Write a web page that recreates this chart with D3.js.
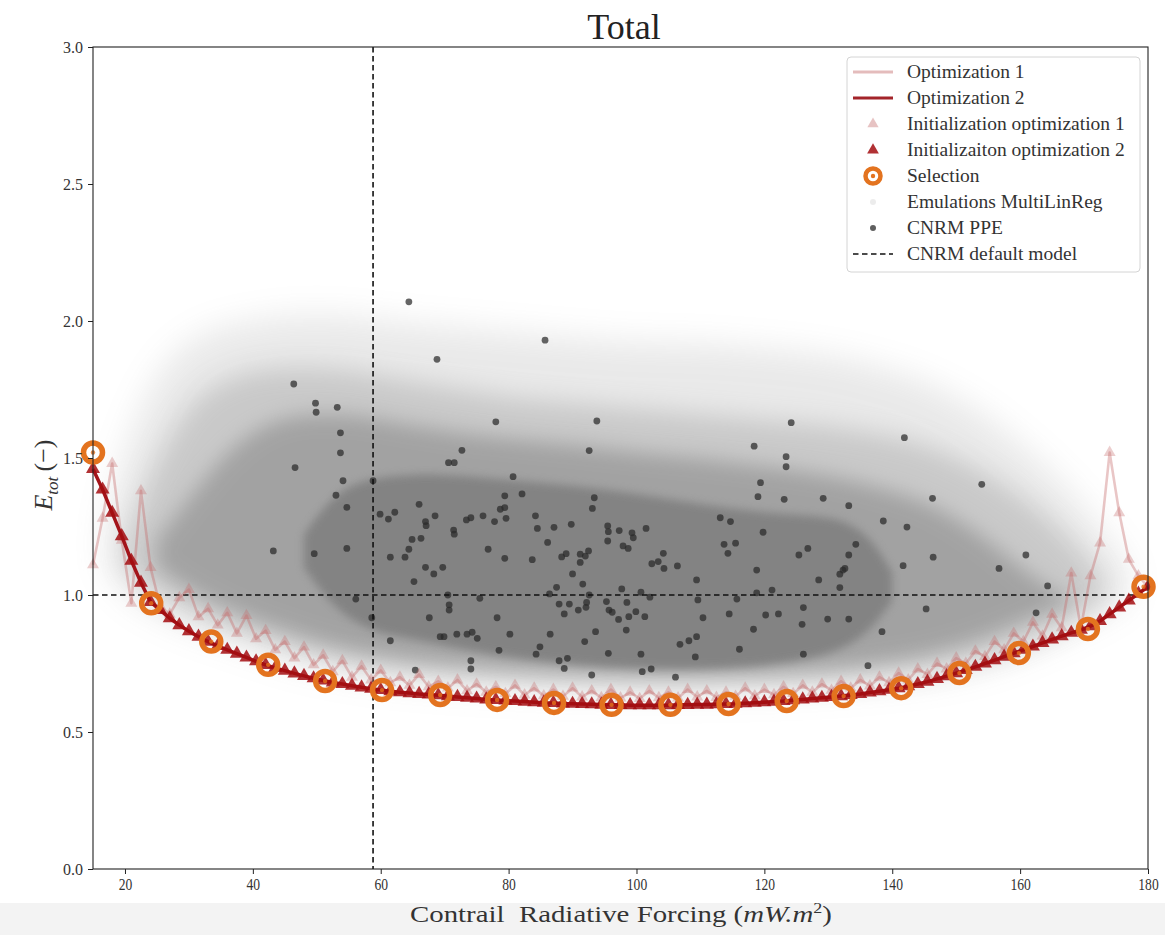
<!DOCTYPE html>
<html><head><meta charset="utf-8">
<script src="https://cdn.jsdelivr.net/npm/d3@7"></script>
<style>body{margin:0;background:#fff;} svg{display:block;}</style>
</head><body>
<svg id="chart" width="1165" height="935"></svg>
<script>
// ---------------- DATA ----------------
const xTicks = [20, 40, 60, 80, 100, 120, 140, 160, 180];
const yTicks = [0.0, 0.5, 1.0, 1.5, 2.0, 2.5, 3.0];
const defaultModelX = 58.8;
const defaultModelY = 1.0;

const optX = [15,16.5,18,19.5,21,22.5,24,25.5,27,28.5,30,31.5,33,34.5,36,37.5,39,40.5,42,43.5,45,46.5,48,49.5,51,52.5,54,55.5,57,58.5,60,61.5,63,64.5,66,67.5,69,70.5,72,73.5,75,76.5,78,79.5,81,82.5,84,85.5,87,88.5,90,91.5,93,94.5,96,97.5,99,100.5,102,103.5,105,106.5,108,109.5,111,112.5,114,115.5,117,118.5,120,121.5,123,124.5,126,127.5,129,130.5,132,133.5,135,136.5,138,139.5,141,142.5,144,145.5,147,148.5,150,151.5,153,154.5,156,157.5,159,160.5,162,163.5,165,166.5,168,169.5,171,172.5,174,175.5,177,178.5,180];
const opt1Y = [1.11,1.28,1.48,1.20,0.97,1.38,1.10,0.96,0.93,0.99,1.02,0.92,0.95,0.89,0.935,0.86,0.925,0.84,0.87,0.80,0.83,0.77,0.81,0.745,0.78,0.72,0.76,0.70,0.74,0.69,0.725,0.68,0.70,0.67,0.71,0.665,0.685,0.66,0.69,0.65,0.675,0.645,0.665,0.64,0.67,0.635,0.66,0.632,0.655,0.63,0.66,0.628,0.65,0.625,0.655,0.624,0.645,0.622,0.65,0.625,0.645,0.624,0.655,0.628,0.65,0.626,0.645,0.63,0.66,0.632,0.655,0.636,0.665,0.64,0.67,0.645,0.675,0.652,0.685,0.66,0.69,0.668,0.70,0.68,0.715,0.69,0.73,0.71,0.75,0.73,0.77,0.75,0.795,0.775,0.83,0.80,0.86,0.83,0.90,0.85,0.93,0.88,1.08,0.88,1.07,1.19,1.52,1.30,1.13,1.07,1.03];
const opt2Y = [1.46,1.385,1.30,1.215,1.125,1.045,0.975,0.945,0.915,0.89,0.868,0.848,0.83,0.814,0.80,0.786,0.772,0.758,0.745,0.734,0.724,0.714,0.705,0.696,0.688,0.681,0.675,0.669,0.663,0.658,0.653,0.649,0.645,0.642,0.639,0.637,0.634,0.631,0.628,0.625,0.622,0.619,0.617,0.615,0.613,0.611,0.609,0.607,0.606,0.604,0.603,0.602,0.601,0.600,0.599,0.599,0.598,0.598,0.598,0.598,0.598,0.599,0.599,0.600,0.600,0.601,0.602,0.603,0.605,0.607,0.609,0.611,0.613,0.616,0.619,0.622,0.625,0.628,0.631,0.635,0.639,0.644,0.649,0.654,0.660,0.667,0.675,0.684,0.694,0.704,0.715,0.726,0.738,0.750,0.762,0.775,0.788,0.800,0.812,0.825,0.838,0.850,0.862,0.873,0.886,0.905,0.930,0.955,0.980,1.005,1.030];

const selX = [15,24.1,33.5,42.4,51.3,60.2,69.3,78.2,87.1,96.1,105.3,114.4,123.5,132.4,141.4,150.5,159.8,170.6,179.3];
const selY = [1.52,0.97,0.83,0.745,0.686,0.653,0.635,0.617,0.606,0.599,0.599,0.602,0.613,0.631,0.66,0.715,0.788,0.876,1.03];

const ppeX = [64.4,85.7,68.8,46.4,49.8,49.9,53.2,53.7,53.7,46.6,54.1,58.8,53.0,78.0,93.8,72.7,70.6,71.5,92.6,80.7,79.4,82.1,93.4,124.2,141.9,118.4,123.4,123.4,119.4,119.0,123.1,129.2,146.3,154.0,54.7,43.2,49.6,54.7,56.1,58.6,59.9,61.2,62.2,66.0,68.5,67.0,67.1,64.9,66.3,61.5,63.8,64.4,67.0,68.3,69.7,65.2,71.4,71.5,73.4,74.1,76.0,77.8,78.7,79.4,79.6,76.8,79.4,70.5,70.7,70.7,67.6,75.5,61.5,69.3,69.9,71.9,73.5,74.3,75.1,78.2,80.2,78.5,74.1,74.1,65.4,84.2,84.5,87.1,89.8,86.1,83.7,88.3,89.0,91.2,92.0,92.5,91.2,90.0,91.6,95.5,95.6,95.5,97.3,97.9,98.7,93.1,87.5,86.4,87.9,89.5,88.7,90.9,92.1,92.2,92.6,95.3,95.7,96.2,97.2,97.7,98.5,98.4,93.6,86.5,91.9,84.9,84.3,87.9,89.2,88.7,95.6,93.0,133.2,101.5,99.3,99.5,113.1,114.7,119.8,113.7,115.5,114.3,104.2,102.4,103.4,104.3,106.4,109.4,118.8,126.8,125.4,133.2,134.3,138.6,142.3,128.5,131.8,132.3,132.6,131.8,141.7,146.4,156.7,100.7,102.1,99.9,98.8,101.3,109.6,115.7,118.8,121.2,114.5,110.4,120.2,122.2,126.1,125.9,129.9,133.2,118.3,106.8,108.2,109.4,100.7,109.2,116.1,126.1,138.4,145.3,100.9,102.3,106.1,136.2,160.9,164.3,162.5];
const ppeY = [2.07,1.93,1.86,1.77,1.70,1.667,1.685,1.592,1.519,1.465,1.417,1.417,1.364,1.632,1.635,1.528,1.483,1.483,1.527,1.432,1.362,1.369,1.355,1.629,1.574,1.543,1.505,1.468,1.410,1.359,1.349,1.353,1.353,1.404,1.320,1.161,1.151,1.170,0.985,0.917,1.295,1.277,1.302,1.331,1.289,1.268,1.253,1.203,1.207,1.138,1.138,1.167,1.101,1.077,1.101,1.049,1.237,1.222,1.274,1.282,1.289,1.268,1.313,1.319,1.280,1.167,1.134,1.000,0.964,0.945,0.917,0.988,0.833,0.848,0.848,0.857,0.857,0.864,0.842,0.917,0.857,0.798,0.760,0.730,0.726,1.289,1.243,1.247,1.258,1.192,1.129,1.139,1.151,1.149,1.142,1.161,1.119,1.077,1.040,1.252,1.231,1.197,1.235,1.179,1.170,1.316,1.028,1.004,0.967,0.967,0.931,0.945,0.955,0.973,1.000,0.976,0.945,0.937,0.911,1.022,0.973,0.872,0.866,0.857,0.830,0.811,0.784,0.760,0.769,0.732,0.787,0.708,1.326,1.243,1.227,1.209,1.282,1.268,1.229,1.185,1.189,1.152,1.152,1.114,1.122,1.097,1.106,1.055,1.091,1.170,1.146,1.146,1.185,1.270,1.248,1.055,1.076,1.091,1.097,1.027,1.107,1.138,1.097,1.010,0.992,0.939,0.921,0.921,0.982,0.985,1.008,1.018,0.931,0.917,0.927,0.931,0.954,0.893,0.912,0.912,0.875,0.820,0.833,0.848,0.784,0.774,0.802,0.784,0.866,0.949,0.720,0.730,0.700,0.742,1.146,1.033,0.935];

// Emulation cloud (MultiLinReg) density envelopes
const cloudFaintX  = [17,20,25,30,35,40,45,50,55,60,70,80,90,100,110,120,130,140,145,150,155,160,165,170,174,177];
const cloudFaintHi = [1.25,1.55,1.82,1.93,1.98,2.0,2.02,2.02,2.02,2.0,1.98,1.96,1.94,1.92,1.92,1.9,1.88,1.82,1.78,1.72,1.65,1.55,1.45,1.32,1.2,1.1];
const cloudFaintLo = [1.1,1.0,0.93,0.88,0.84,0.8,0.76,0.73,0.71,0.69,0.67,0.655,0.645,0.64,0.64,0.645,0.655,0.675,0.69,0.71,0.74,0.78,0.83,0.89,0.94,0.98];
const cloudMidX  = [20,25,30,35,40,45,50,55,60,70,80,90,100,110,120,130,140,145,150,155,160,165,170,173];
const cloudMidHi = [1.2,1.5,1.7,1.78,1.82,1.83,1.83,1.82,1.8,1.76,1.72,1.7,1.68,1.66,1.64,1.62,1.58,1.55,1.5,1.44,1.36,1.27,1.15,1.05];
const cloudMidLo = [1.1,1.0,0.94,0.89,0.85,0.81,0.78,0.75,0.73,0.705,0.69,0.68,0.675,0.675,0.68,0.69,0.71,0.725,0.75,0.775,0.815,0.865,0.93,0.99];
const cloudDenseX  = [25,30,35,40,45,50,55,60,70,80,90,100,110,120,130,140,145,150,155,160,165,168];
const cloudDenseHi = [1.2,1.35,1.5,1.6,1.65,1.66,1.66,1.64,1.6,1.57,1.55,1.52,1.5,1.47,1.44,1.38,1.34,1.28,1.2,1.1,1.02,0.98];
const cloudDenseLo = [1.1,1.02,0.96,0.91,0.87,0.83,0.8,0.78,0.75,0.73,0.72,0.71,0.71,0.715,0.73,0.76,0.78,0.81,0.85,0.9,0.95,0.96];
const cloudCoreX  = [48,52,56,60,65,70,80,90,100,110,120,128,133,137,140];
const cloudCoreHi = [1.22,1.35,1.41,1.43,1.44,1.44,1.42,1.40,1.37,1.33,1.30,1.29,1.27,1.2,1.08];
const cloudCoreLo = [1.1,0.97,0.9,0.86,0.84,0.815,0.77,0.745,0.73,0.728,0.74,0.77,0.81,0.88,0.98];

const legendLabels = ["Optimization 1","Optimization 2","Initialization optimization 1","Initializaiton optimization 2","Selection","Emulations MultiLinReg","CNRM PPE","CNRM default model"];

// ---------------- CHART ----------------
const svg = d3.select("#chart");
const W = 1165, H = 935;
const L = 93, R = 1148, T = 47, B = 869;
const FONT = "'Liberation Serif','DejaVu Serif',serif";

svg.append("rect").attr("x",0).attr("y",0).attr("width",W).attr("height",H).attr("fill","#fff");
svg.append("rect").attr("x",0).attr("y",903).attr("width",W).attr("height",32).attr("fill","#f3f3f3");

const x = d3.scaleLinear().domain([15,180]).range([L,R]);
const y = d3.scaleLinear().domain([0,3]).range([B,T]);

const defs = svg.append("defs");
[["blurA",16],["blurB",13],["blurC",10],["blurD",4.5]].forEach(([id,s])=>{
  defs.append("filter").attr("id",id).attr("x","-30%").attr("y","-30%").attr("width","160%").attr("height","160%")
    .append("feGaussianBlur").attr("stdDeviation",s);
});

const plot = svg.append("g");

function cloudLayer(xs, hi, lo, op, filt){
  const data = xs.map((v,i)=>({x:v,hi:hi[i],lo:lo[i]}));
  const area = d3.area().x(d=>x(d.x)).y0(d=>y(d.lo)).y1(d=>y(d.hi)).curve(d3.curveBasis);
  plot.append("path").datum(data).attr("d",area).attr("fill","#808080").attr("opacity",op).attr("filter",`url(#${filt})`);
}
cloudLayer(cloudFaintX, cloudFaintHi, cloudFaintLo, 0.17, "blurA");
cloudLayer(cloudMidX, cloudMidHi, cloudMidLo, 0.30, "blurB");
cloudLayer(cloudDenseX, cloudDenseHi, cloudDenseLo, 0.52, "blurC");
cloudLayer(cloudCoreX, cloudCoreHi, cloudCoreLo, 0.9, "blurD");

// PPE
plot.append("g").selectAll("circle").data(ppeX.map((v,i)=>[v,ppeY[i]])).join("circle")
  .attr("cx",d=>x(d[0])).attr("cy",d=>y(d[1])).attr("r",3.4)
  .attr("fill","#2a2a2a").attr("opacity",0.72);

// default model dashed lines
plot.append("line").attr("x1",x(defaultModelX)).attr("x2",x(defaultModelX)).attr("y1",y(3)).attr("y2",y(0))
  .attr("stroke","#111").attr("stroke-width",1.6).attr("stroke-dasharray","5.5,3.5");
plot.append("line").attr("x1",x(15)).attr("x2",x(180)).attr("y1",y(defaultModelY)).attr("y2",y(defaultModelY))
  .attr("stroke","#111").attr("stroke-width",1.6).attr("stroke-dasharray","5.5,3.5");

const lineGen = d3.line().x(d=>x(d[0])).y(d=>y(d[1]));
const opt1 = optX.map((v,i)=>[v,opt1Y[i]]);
const opt2 = optX.map((v,i)=>[v,opt2Y[i]]);
const tri = d3.symbol(d3.symbolTriangle);

// Optimization 1
plot.append("path").datum(opt1).attr("d",lineGen).attr("fill","none")
  .attr("stroke","#c46a6a").attr("stroke-opacity",0.38).attr("stroke-width",2.6).attr("stroke-linejoin","round");
plot.append("g").selectAll("path").data(opt1).join("path")
  .attr("d",tri.size(62)()).attr("transform",d=>`translate(${x(d[0])},${y(d[1])})`)
  .attr("fill","#c46a6a").attr("opacity",0.33);

// Optimization 2
plot.append("path").datum(opt2).attr("d",lineGen).attr("fill","none")
  .attr("stroke","#a3141a").attr("stroke-width",3.5).attr("stroke-linejoin","round");
plot.append("g").selectAll("path").data(opt2).join("path")
  .attr("d",tri.size(85)()).attr("transform",d=>`translate(${x(d[0])},${y(d[1])})`)
  .attr("fill","#a30d10").attr("opacity",0.85);

// Selection
const sel = plot.append("g").selectAll("g").data(selX.map((v,i)=>[v,selY[i]])).join("g")
  .attr("transform",d=>`translate(${x(d[0])},${y(d[1])})`);
sel.append("circle").attr("r",9.5).attr("fill","none").attr("stroke","#e3731f").attr("stroke-width",5.5);
sel.append("circle").attr("r",2.2).attr("fill","#e3731f").attr("opacity",0.8);

// Axes frame
const axG = svg.append("g");
axG.append("rect").attr("x",L).attr("y",T).attr("width",R-L).attr("height",B-T)
  .attr("fill","none").attr("stroke","#222").attr("stroke-width",1.1);

const xAxis = axG.append("g").attr("transform",`translate(0,${B})`)
  .call(d3.axisBottom(x).tickValues(xTicks).tickSize(5).tickPadding(5).tickFormat(d3.format("d")));
const yAxis = axG.append("g").attr("transform",`translate(${L},0)`)
  .call(d3.axisLeft(y).tickValues(yTicks).tickSize(5).tickPadding(5).tickFormat(d3.format(".1f")));
[xAxis,yAxis].forEach(a=>{
  a.select(".domain").remove();
  a.selectAll(".tick line").attr("stroke","#222").attr("stroke-width",1);
  a.selectAll(".tick text").attr("font-family",FONT).attr("fill","#333");
});
yAxis.selectAll(".tick text").attr("font-size",16);
xAxis.selectAll(".tick text").attr("font-size",16)
  .attr("textLength",d=>String(d).length*6.8).attr("lengthAdjust","spacingAndGlyphs");

// Title
svg.append("text").attr("x",624).attr("y",39).attr("text-anchor","middle")
  .attr("font-family",FONT).attr("font-size",36).attr("fill","#222").text("Total");

// X label
const xl = svg.append("text").attr("x",621).attr("y",922).attr("text-anchor","middle")
  .attr("font-family",FONT).attr("font-size",24).attr("fill","#333")
  .attr("textLength",422).attr("lengthAdjust","spacingAndGlyphs");
xl.append("tspan").text("Contrail\u00A0\u00A0Radiative Forcing (");
xl.append("tspan").attr("font-style","italic").text("mW.m");
xl.append("tspan").attr("font-size",15).attr("dy",-9).text("2");
xl.append("tspan").attr("dy",9).text(")");

// Y label
const yl = svg.append("text").attr("transform","translate(52,475) rotate(-90)").attr("text-anchor","middle")
  .attr("font-family",FONT).attr("font-size",26).attr("fill","#333");
yl.append("tspan").attr("font-style","italic").text("E");
yl.append("tspan").attr("font-style","italic").attr("font-size",17).attr("dy",6).text("tot");
yl.append("tspan").attr("dy",-6).text("\u2009(\u2212)");

// Legend
const lg = svg.append("g");
lg.append("rect").attr("x",847).attr("y",57).attr("width",293).attr("height",215).attr("rx",4)
  .attr("fill","#fff").attr("fill-opacity",0.85).attr("stroke","#d4d4d4").attr("stroke-width",1);
const rowY = i => 72 + i*26;
lg.append("line").attr("x1",853).attr("x2",893).attr("y1",rowY(0)).attr("y2",rowY(0))
  .attr("stroke","#c46a6a").attr("stroke-opacity",0.45).attr("stroke-width",2.8);
lg.append("line").attr("x1",853).attr("x2",893).attr("y1",rowY(1)).attr("y2",rowY(1))
  .attr("stroke","#a3242a").attr("stroke-width",2.8);
lg.append("path").attr("d",tri.size(55)()).attr("transform",`translate(873,${rowY(2)})`).attr("fill","#c46a6a").attr("opacity",0.4);
lg.append("path").attr("d",tri.size(60)()).attr("transform",`translate(873,${rowY(3)})`).attr("fill","#a30d10").attr("opacity",0.85);
lg.append("circle").attr("cx",873).attr("cy",rowY(4)).attr("r",7.5).attr("fill","#fff").attr("stroke","#e3731f").attr("stroke-width",4.5);
lg.append("circle").attr("cx",873).attr("cy",rowY(4)).attr("r",2.2).attr("fill","#e3731f");
lg.append("circle").attr("cx",873).attr("cy",rowY(5)).attr("r",3).attr("fill","#808080").attr("opacity",0.15);
lg.append("circle").attr("cx",873).attr("cy",rowY(6)).attr("r",3).attr("fill","#2a2a2a").attr("opacity",0.75);
lg.append("line").attr("x1",853).attr("x2",893).attr("y1",rowY(7)).attr("y2",rowY(7))
  .attr("stroke","#111").attr("stroke-width",1.6).attr("stroke-dasharray","5.5,3.5");
lg.selectAll("text.lab").data(legendLabels).join("text").attr("class","lab")
  .attr("x",907).attr("y",(d,i)=>rowY(i)+6).attr("font-family",FONT).attr("font-size",19.5).attr("fill","#333").text(d=>d);
</script>
</body></html>
